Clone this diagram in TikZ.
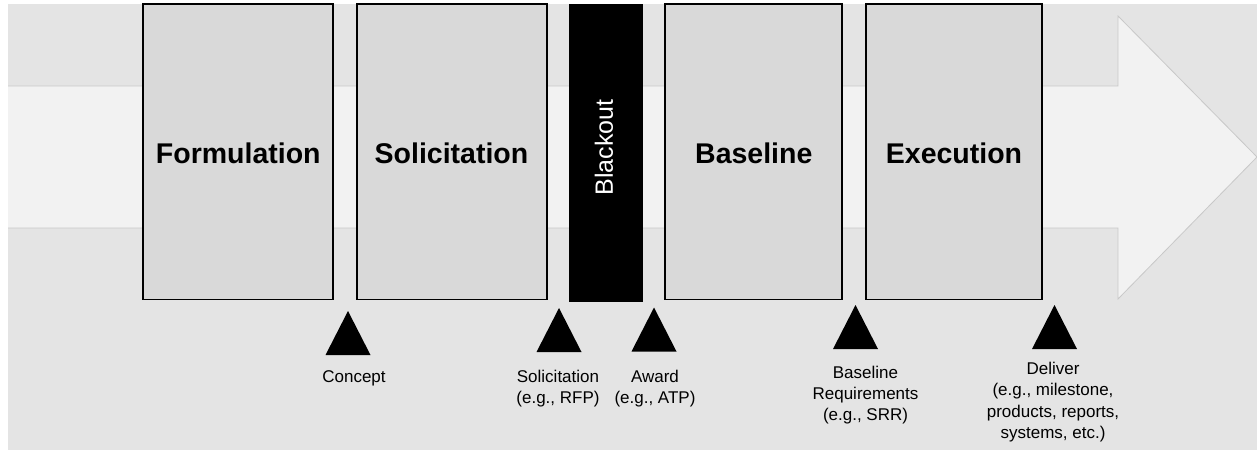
\documentclass[tikz,border=0pt]{standalone}
\usepackage{fontspec}
\setmainfont{Liberation Sans}
\definecolor{bggray}{HTML}{E4E4E4}
\definecolor{arrowfill}{HTML}{F2F2F2}
\definecolor{arrowedge}{HTML}{C8C8C8}
\definecolor{boxfill}{HTML}{D9D9D9}
\begin{document}
\begin{tikzpicture}[x=1pt,y=-1pt,
  phase/.style={draw=black, line width=1.5pt, fill=boxfill, inner sep=0pt, minimum height=295.5pt},
  phasetitle/.style={font=\fontsize{28.5}{34}\selectfont\bfseries, anchor=base, inner sep=0pt},
  blackbox/.style={draw=black, line width=1.5pt, fill=black, inner sep=0pt},
  milestone/.style={fill=black},
  mlabel/.style={font=\fontsize{17}{21.3}\selectfont, align=center, anchor=north, inner sep=0pt}]
\useasboundingbox (0,0) rectangle (1257,450);
% background
\fill[bggray] (8,4) rectangle (1257,450);
% big arrow
\fill[arrowfill] (8,86) -- (1118,86) -- (1118,16) -- (1257,157) -- (1118,299) -- (1118,228) -- (8,228) -- cycle;
\draw[arrowedge, line width=0.8pt] (8,86) -- (1118,86) -- (1118,16) -- (1257,157) -- (1118,299) -- (1118,228) -- (8,228);
% phase boxes
\node[phase, minimum width=190pt] (form) at (238,151.75) {};
\node[phase, minimum width=190pt] (soli) at (452,151.75) {};
\node[blackbox, minimum width=72pt, minimum height=296pt] (black) at (606,153) {};
\node[phase, minimum width=177pt] (base) at (753.5,151.75) {};
\node[phase, minimum width=176pt] (exec) at (954,151.75) {};
% titles
\node[phasetitle] (formt) at (238.3,163.3) {Formulation};
\node[phasetitle] (solit) at (451.5,163.3) {Solicitation};
\node[phasetitle] (baset) at (753.8,163.3) {Baseline};
\node[phasetitle] (exect) at (954,163.3) {Execution};
\node[font=\fontsize{25}{30}\selectfont, text=white, rotate=90, inner sep=0pt] (blackt) at (604,147.5) {Blackout};
% milestones
\fill[milestone] (348,311) -- ++(22.5,44) -- ++(-45,0) -- cycle;
\fill[milestone] (559,308) -- ++(22.5,44) -- ++(-45,0) -- cycle;
\fill[milestone] (654,307.5) -- ++(22.5,44) -- ++(-45,0) -- cycle;
\fill[milestone] (855.5,305) -- ++(22.5,44) -- ++(-45,0) -- cycle;
\fill[milestone] (1054.5,305) -- ++(22.5,44) -- ++(-45,0) -- cycle;
% milestone labels
\node[mlabel] (l1) at (354,370) {Concept};
\node[mlabel] (l2) at (558,370) {Solicitation\\(e.g., RFP)};
\node[mlabel] (l3) at (655,370) {Award\\(e.g., ATP)};
\node[mlabel] (l4) at (865.5,365.5) {Baseline\\Requirements\\(e.g., SRR)};
\node[mlabel] (l5) at (1053,362) {Deliver\\(e.g., milestone,\\products, reports,\\systems, etc.)};
\end{tikzpicture}
\end{document}
